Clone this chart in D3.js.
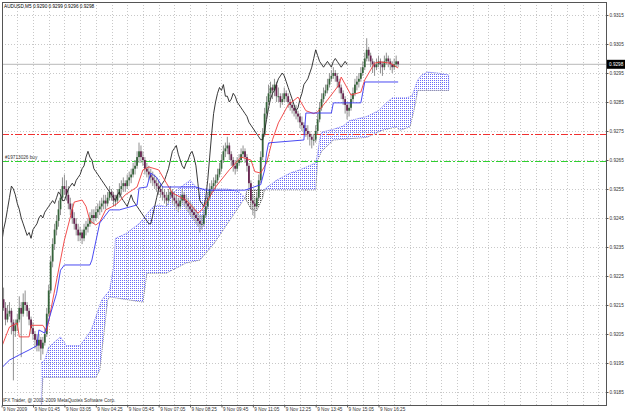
<!DOCTYPE html>
<html><head><meta charset="utf-8">
<script src="https://cdn.jsdelivr.net/npm/d3@7"></script>
<style>html,body{margin:0;padding:0;background:#fff;overflow:hidden}svg{display:block}text{font-family:"Liberation Sans",Arial,sans-serif}</style>
</head><body><svg id="c" width="625" height="414"></svg>
<script>
const titleText = "AUDUSD,M5  0.9290 0.9299 0.9296 0.9298";
const copyrightText = "IFX Trader, @ 2001-2009 MetaQuotes Software Corp.";
const priceTicks = [0.9315,0.9305,0.9295,0.9285,0.9275,0.9265,0.9255,0.9245,0.9235,0.9225,0.9215,0.9205,0.9195,0.9185];
const timeLabels = ["9 Nov 2009","9 Nov 01:45","9 Nov 03:05","9 Nov 04:25","9 Nov 05:45","9 Nov 07:05","9 Nov 08:25","9 Nov 09:45","9 Nov 11:05","9 Nov 12:25","9 Nov 13:45","9 Nov 15:05","9 Nov 16:25"];
const timeLabelBars = [0,16,32,48,64,80,96,112,128,144,160,176,192];
const bidPrice = 0.9298;
const sellLevel = 0.92738;
const buyLevel = 0.92648;
const buyLabel = "#19713026 buy";
const chikouShift = 26;

const opens = [0.9219,0.9217,0.9214,0.9210,0.9212,0.9213,0.9209,0.9206,0.9208,0.9210,
0.9214,0.9212,0.9216,0.9215,0.9213,0.9210,0.9207,0.9205,0.9203,0.9201,
0.9203,0.9200,0.9202,0.9205,0.9212,0.9220,0.9230,0.9236,0.9241,0.9244,
0.9248,0.9252,0.9256,0.9255,0.9253,0.9250,0.9248,0.9245,0.9243,0.9241,
0.9239,0.9240,0.9238,0.9241,0.9242,0.9243,0.9245,0.9246,0.9245,0.9247,
0.9248,0.9249,0.9250,0.9251,0.9250,0.9252,0.9254,0.9253,0.9251,0.9251,
0.9253,0.9255,0.9256,0.9257,0.9256,0.9258,0.9259,0.9260,0.9262,0.9263,
0.9266,0.9268,0.9266,0.9265,0.9262,0.9261,0.9260,0.9259,0.9258,0.9257,
0.9256,0.9255,0.9254,0.9253,0.9252,0.9251,0.9253,0.9254,0.9252,0.9251,
0.9250,0.9249,0.9251,0.9253,0.9251,0.9250,0.9249,0.9248,0.9247,0.9246,
0.9245,0.9244,0.9243,0.9243,0.9246,0.9249,0.9252,0.9255,0.9256,0.9257,
0.9258,0.9260,0.9262,0.9265,0.9268,0.9269,0.9270,0.9267,0.9265,0.9263,
0.9262,0.9264,0.9265,0.9267,0.9268,0.9266,0.9263,0.9257,0.9251,0.9250,
0.9249,0.9252,0.9258,0.9266,0.9274,0.9281,0.9285,0.9288,0.9290,0.9289,
0.9291,0.9287,0.9287,0.9285,0.9286,0.9288,0.9287,0.9285,0.9284,0.9283,
0.9282,0.9281,0.9280,0.9278,0.9277,0.9276,0.9275,0.9274,0.9273,0.9272,
0.9272,0.9275,0.9279,0.9283,0.9286,0.9288,0.9289,0.9291,0.9293,0.9294,
0.9295,0.9294,0.9292,0.9290,0.9288,0.9286,0.9284,0.9282,0.9283,0.9286,
0.9288,0.9291,0.9292,0.9293,0.9295,0.9297,0.9300,0.9303,0.9301,0.9299,
0.9298,0.9297,0.9298,0.9299,0.9298,0.9297,0.9299,0.9300,0.9299,0.9298,
0.9297,0.9298,0.9299];
const highs = [0.9222,0.9221,0.9216,0.9215,0.9216,0.9214,0.9210,0.9210,0.9212,0.9218,
0.9216,0.9219,0.9220,0.9216,0.9214,0.9211,0.9209,0.9206,0.9205,0.9205,
0.9204,0.9204,0.9207,0.9214,0.9222,0.9232,0.9238,0.9243,0.9246,0.9251,
0.9255,0.9259,0.9260,0.9258,0.9256,0.9252,0.9250,0.9247,0.9245,0.9243,
0.9242,0.9241,0.9243,0.9244,0.9245,0.9247,0.9248,0.9248,0.9249,0.9250,
0.9251,0.9252,0.9253,0.9253,0.9254,0.9256,0.9255,0.9254,0.9253,0.9255,
0.9257,0.9258,0.9259,0.9258,0.9260,0.9261,0.9262,0.9264,0.9265,0.9268,
0.9271,0.9270,0.9268,0.9266,0.9264,0.9263,0.9262,0.9261,0.9260,0.9259,
0.9258,0.9257,0.9256,0.9255,0.9254,0.9255,0.9256,0.9255,0.9254,0.9253,
0.9252,0.9253,0.9255,0.9254,0.9253,0.9252,0.9251,0.9250,0.9249,0.9248,
0.9247,0.9246,0.9246,0.9248,0.9251,0.9254,0.9257,0.9258,0.9259,0.9260,
0.9262,0.9264,0.9267,0.9270,0.9271,0.9273,0.9271,0.9268,0.9266,0.9265,
0.9266,0.9267,0.9269,0.9270,0.9269,0.9267,0.9264,0.9258,0.9253,0.9252,
0.9254,0.9260,0.9268,0.9276,0.9283,0.9287,0.9291,0.9292,0.9291,0.9293,
0.9292,0.9290,0.9288,0.9288,0.9290,0.9289,0.9288,0.9286,0.9285,0.9284,
0.9284,0.9282,0.9281,0.9280,0.9278,0.9277,0.9277,0.9275,0.9274,0.9274,
0.9277,0.9281,0.9285,0.9288,0.9290,0.9291,0.9293,0.9295,0.9296,0.9297,
0.9296,0.9295,0.9293,0.9291,0.9289,0.9287,0.9285,0.9285,0.9288,0.9290,
0.9293,0.9294,0.9295,0.9297,0.9299,0.9302,0.9307,0.9304,0.9302,0.9300,
0.9299,0.9300,0.9301,0.9300,0.9299,0.9301,0.9302,0.9301,0.9300,0.9299,
0.9300,0.9301,0.9299];
const lows = [0.9215,0.9213,0.9208,0.9209,0.9211,0.9205,0.9189,0.9204,0.9206,0.9209,
0.9197,0.9211,0.9213,0.9211,0.9208,0.9205,0.9203,0.9200,0.9199,0.9199,
0.9196,0.9198,0.9201,0.9204,0.9211,0.9219,0.9228,0.9234,0.9239,0.9242,
0.9246,0.9251,0.9253,0.9251,0.9248,0.9246,0.9243,0.9241,0.9239,0.9237,
0.9237,0.9236,0.9237,0.9239,0.9240,0.9242,0.9243,0.9243,0.9244,0.9245,
0.9246,0.9247,0.9248,0.9248,0.9249,0.9251,0.9251,0.9249,0.9249,0.9250,
0.9252,0.9253,0.9254,0.9254,0.9255,0.9256,0.9257,0.9259,0.9260,0.9262,
0.9264,0.9264,0.9263,0.9260,0.9259,0.9258,0.9257,0.9256,0.9255,0.9254,
0.9253,0.9252,0.9251,0.9250,0.9249,0.9250,0.9252,0.9250,0.9249,0.9248,
0.9247,0.9248,0.9250,0.9249,0.9248,0.9247,0.9246,0.9245,0.9244,0.9243,
0.9242,0.9240,0.9241,0.9242,0.9245,0.9248,0.9251,0.9253,0.9254,0.9255,
0.9257,0.9259,0.9261,0.9264,0.9266,0.9267,0.9265,0.9263,0.9261,0.9260,
0.9261,0.9263,0.9264,0.9266,0.9264,0.9261,0.9255,0.9248,0.9246,0.9245,
0.9248,0.9251,0.9257,0.9265,0.9273,0.9279,0.9284,0.9286,0.9286,0.9287,
0.9285,0.9285,0.9283,0.9284,0.9285,0.9285,0.9283,0.9282,0.9281,0.9280,
0.9279,0.9278,0.9276,0.9275,0.9274,0.9273,0.9272,0.9270,0.9269,0.9270,
0.9271,0.9274,0.9278,0.9282,0.9285,0.9287,0.9288,0.9290,0.9292,0.9293,
0.9292,0.9290,0.9288,0.9286,0.9284,0.9281,0.9279,0.9280,0.9282,0.9285,
0.9287,0.9289,0.9290,0.9292,0.9294,0.9296,0.9299,0.9299,0.9297,0.9295,
0.9294,0.9296,0.9297,0.9295,0.9294,0.9296,0.9298,0.9297,0.9296,0.9295,
0.9296,0.9297,0.9297];
const closes = [0.9217,0.9214,0.9210,0.9212,0.9213,0.9209,0.9206,0.9208,0.9210,0.9214,
0.9212,0.9216,0.9215,0.9213,0.9210,0.9207,0.9205,0.9203,0.9201,0.9203,
0.9200,0.9202,0.9205,0.9212,0.9220,0.9230,0.9236,0.9241,0.9244,0.9248,
0.9252,0.9256,0.9255,0.9253,0.9250,0.9248,0.9245,0.9243,0.9241,0.9239,
0.9240,0.9238,0.9241,0.9242,0.9243,0.9245,0.9246,0.9245,0.9247,0.9248,
0.9249,0.9250,0.9251,0.9250,0.9252,0.9254,0.9253,0.9251,0.9251,0.9253,
0.9255,0.9256,0.9257,0.9256,0.9258,0.9259,0.9260,0.9262,0.9263,0.9266,
0.9268,0.9266,0.9265,0.9262,0.9261,0.9260,0.9259,0.9258,0.9257,0.9256,
0.9255,0.9254,0.9253,0.9252,0.9251,0.9253,0.9254,0.9252,0.9251,0.9250,
0.9249,0.9251,0.9253,0.9251,0.9250,0.9249,0.9248,0.9247,0.9246,0.9245,
0.9244,0.9243,0.9243,0.9246,0.9249,0.9252,0.9255,0.9256,0.9257,0.9258,
0.9260,0.9262,0.9265,0.9268,0.9269,0.9270,0.9267,0.9265,0.9263,0.9262,
0.9264,0.9265,0.9267,0.9268,0.9266,0.9263,0.9257,0.9251,0.9250,0.9249,
0.9252,0.9258,0.9266,0.9274,0.9281,0.9285,0.9288,0.9290,0.9289,0.9291,
0.9287,0.9287,0.9285,0.9286,0.9288,0.9287,0.9285,0.9284,0.9283,0.9282,
0.9281,0.9280,0.9278,0.9277,0.9276,0.9275,0.9274,0.9273,0.9272,0.9272,
0.9275,0.9279,0.9283,0.9286,0.9288,0.9289,0.9291,0.9293,0.9294,0.9295,
0.9294,0.9292,0.9290,0.9288,0.9286,0.9284,0.9282,0.9283,0.9286,0.9288,
0.9291,0.9292,0.9293,0.9295,0.9297,0.9300,0.9303,0.9301,0.9299,0.9298,
0.9297,0.9298,0.9299,0.9298,0.9297,0.9299,0.9300,0.9299,0.9298,0.9297,
0.9298,0.9299,0.9298];

// Tenkan-sen (red) vertices [bar, price]
const tenkan = [[0,0.92005],[4,0.92074],[8,0.92088],[9,0.9204],[14,0.9204],[15,0.9208],[21,0.9208],[23,0.9206],
[30,0.92305],[32,0.92374],[37,0.92505],[41,0.92512],[43,0.9249],[45,0.9244],[48,0.92426],[50,0.92436],
[53,0.92478],[56,0.92488],[59,0.925],[63,0.9253],[69,0.92557],[72,0.92616],[75,0.92626],[80,0.92616],
[84,0.9257],[87,0.92536],[94,0.92512],[100,0.92467],[102,0.92478],[109,0.92557],[116,0.92616],[122,0.9266],
[127,0.9265],[129,0.9261],[132,0.92605],[135,0.9264],[138,0.9272],[141,0.92778],[146,0.9284],[151,0.92867],
[155,0.9282],[159,0.9281],[161,0.92816],[166,0.92857],[172,0.9291],[173,0.92936],[178,0.92874],[183,0.92884],
[185,0.92926],[190,0.92984],[193,0.92988],[198,0.92984],[202,0.92967]];
// Kijun-sen (blue) vertices
const kijun = [[0,0.91933],[4,0.9196],[9,0.91978],[14,0.91995],[18,0.9201],[19,0.92064],[22,0.92053],[24,0.92098],
[28,0.9219],[30,0.9227],[32,0.92288],[45,0.92288],[46,0.92305],[50,0.92433],[55,0.92478],[60,0.92478],
[69,0.92495],[70,0.92553],[74,0.92557],[76,0.92605],[79,0.9259],[82,0.92557],[99,0.92557],[104,0.92546],
[124,0.92546],[132,0.92565],[134,0.92616],[135,0.92674],[136,0.92709],[154,0.92719],[155,0.92812],[168,0.92812],
[169,0.92847],[183,0.92847],[185,0.92919],[202,0.92919]];
// Senkou span A / B vertices (already shifted forward)
const spanA = [[20,0.9195],[22,0.9196],[24,0.92005],[30,0.9204],[33,0.9201],[40,0.9201],[45,0.92057],[46,0.9207],
[51,0.92167],[55,0.922],[57,0.9228],[58,0.9238],[63,0.92395],[70,0.9243],[77,0.92488],[80,0.92495],
[84,0.92488],[87,0.92536],[94,0.9257],[96,0.9258],[100,0.9255],[107,0.9255],[115,0.9255],[121,0.9254],
[124,0.9252],[127,0.9248],[130,0.92475],[133,0.9252],[134,0.9255],[140,0.9258],[147,0.92605],[152,0.92616],
[160,0.9264],[161,0.9267],[162,0.9272],[163,0.92746],[169,0.92756],[174,0.92767],[177,0.92785],[186,0.928],
[192,0.9282],[196,0.92847],[199,0.92864],[206,0.92864],[209,0.9287],[212,0.92926],[214,0.92943],[217,0.92953],
[222,0.9295],[228,0.92943]];
const spanB = [[20,0.9175],[21,0.919],[48,0.919],[50,0.91926],[54,0.92167],[55,0.92178],[72,0.9216],[74,0.9226],
[84,0.9226],[94,0.92295],[101,0.92305],[108,0.9236],[114,0.9242],[120,0.9248],[124,0.9252],[125,0.92547],
[133,0.92547],[160,0.92547],[161,0.9265],[163,0.9268],[169,0.92719],[186,0.92728],[194,0.92753],[201,0.92764],
[203,0.92753],[208,0.92764],[210,0.9282],[212,0.9289],[228,0.9289]];

const svg = d3.select("#c");
const W = 625, H = 414;
const L = 2, R = 606, T = 2, B = 405;
const step = 1.963, x0 = 1.6;
const FS = 4.7;
const x = d3.scaleLinear().domain([0, 300]).range([x0, x0 + 300 * step]);
const y = d3.scaleLinear().domain([0.9185, 0.9315]).range([392, 15]);

svg.append("rect").attr("width", W).attr("height", H).attr("fill", "#fff");
const defs = svg.append("defs");
defs.append("clipPath").attr("id", "plot").append("rect").attr("x", L).attr("y", T).attr("width", R - L).attr("height", B - T);
const pb = defs.append("pattern").attr("id", "pBlue").attr("patternUnits", "userSpaceOnUse").attr("width", 2).attr("height", 2);
pb.append("rect").attr("width", 1).attr("height", 1).attr("fill", "#6a6af8");
const pk = defs.append("pattern").attr("id", "pBlack").attr("patternUnits", "userSpaceOnUse").attr("width", 2).attr("height", 2);
pk.append("rect").attr("width", 1).attr("height", 1).attr("fill", "#555");

const plot = svg.append("g").attr("clip-path", "url(#plot)");

// grid
const maxBar = Math.floor(x.invert(R));
const gridBars = d3.range(8, maxBar + 1, 8);
plot.append("g").selectAll("line").data(gridBars).join("line")
  .attr("x1", d => Math.round(x(d)) + 0.5).attr("x2", d => Math.round(x(d)) + 0.5)
  .attr("y1", T).attr("y2", B).attr("stroke", "#c8c8c8").attr("stroke-dasharray", "1,2");
plot.append("g").selectAll("line").data(priceTicks).join("line")
  .attr("x1", L).attr("x2", R).attr("y1", d => Math.round(y(d)) + 0.5).attr("y2", d => Math.round(y(d)) + 0.5)
  .attr("stroke", "#c8c8c8").attr("stroke-dasharray", "1,2");

// cloud
const px = d => x(d[0]), py = d => y(d[1]);
const band = "M" + spanA.map(d => px(d) + "," + py(d)).join("L") + "L" + spanB.slice().reverse().map(d => px(d) + "," + py(d)).join("L") + "Z";
const first = spanB[0], last = spanB[spanB.length - 1];
const aboveB = "M" + spanB.map(d => px(d) + "," + py(d)).join("L") + `L${px(last)},0L${px(first)},0Z`;
const belowB = "M" + spanB.map(d => px(d) + "," + py(d)).join("L") + `L${px(last)},${H}L${px(first)},${H}Z`;
defs.append("clipPath").attr("id", "cAbove").append("path").attr("d", aboveB);
defs.append("clipPath").attr("id", "cBelow").append("path").attr("d", belowB);
plot.append("g").attr("clip-path", "url(#cAbove)").append("path").attr("d", band).attr("fill", "url(#pBlue)").attr("stroke", "#5555f0").attr("stroke-width", 0.8).attr("stroke-dasharray", "1,1");
plot.append("g").attr("clip-path", "url(#cBelow)").append("path").attr("d", band).attr("fill", "url(#pBlack)").attr("stroke", "#444").attr("stroke-width", 0.8).attr("stroke-dasharray", "1,1");

// level lines
plot.append("line").attr("x1", L).attr("x2", R).attr("y1", y(bidPrice)).attr("y2", y(bidPrice)).attr("stroke", "#b8b8b8");
plot.append("line").attr("x1", L).attr("x2", R).attr("y1", Math.round(y(sellLevel)) + 0.5).attr("y2", Math.round(y(sellLevel)) + 0.5).attr("stroke", "#f03030").attr("stroke-dasharray", "7,2,2,2");
plot.append("line").attr("x1", L).attr("x2", R).attr("y1", Math.round(y(buyLevel)) + 0.5).attr("y2", Math.round(y(buyLevel)) + 0.5).attr("stroke", "#30d030").attr("stroke-dasharray", "7,2,2,2");
plot.append("text").attr("x", 5).attr("y", y(buyLevel) - 2).attr("font-size", FS).attr("fill", "#333").text(buyLabel);

// candles
const bars = d3.range(closes.length).map(i => ({i, o: opens[i], h: highs[i], l: lows[i], c: closes[i]}));
const cg = plot.append("g");
cg.selectAll("line.w").data(bars).join("line").attr("class", "w")
  .attr("x1", d => x(d.i)).attr("x2", d => x(d.i)).attr("y1", d => y(d.h)).attr("y2", d => y(d.l))
  .attr("stroke", "#909090").attr("stroke-width", 1);
cg.selectAll("rect").data(bars).join("rect")
  .attr("x", d => x(d.i) - 0.9).attr("width", 1.8)
  .attr("y", d => y(Math.max(d.o, d.c)))
  .attr("height", d => Math.max(1, Math.abs(y(d.o) - y(d.c))))
  .attr("fill", d => d.c >= d.o ? "#35633a" : "#66244f");

// lines
const line = d3.line().x(d => x(d[0])).y(d => y(d[1]));
const chikou = closes.map((c, i) => [i - chikouShift, c]).filter(d => d[0] >= 0);
plot.append("path").attr("d", line(chikou)).attr("fill", "none").attr("stroke", "#222").attr("stroke-width", 0.9);
plot.append("path").attr("d", line(tenkan)).attr("fill", "none").attr("stroke", "#f03a3a").attr("stroke-width", 0.9);
plot.append("path").attr("d", line(kijun)).attr("fill", "none").attr("stroke", "#3535f0").attr("stroke-width", 0.9);

// frame
svg.append("rect").attr("x", L + 0.5).attr("y", T + 0.5).attr("width", R - L).attr("height", B - T).attr("fill", "none").attr("stroke", "#555");

// axes
const ya = d3.axisRight(y).tickValues(priceTicks).tickSize(2).tickFormat(d3.format(".4f"));
const yg = svg.append("g").attr("transform", `translate(${R + 0.5},0)`).call(ya);
yg.select(".domain").remove();
yg.selectAll("text").attr("font-size", FS).attr("fill", "#333").attr("x", 3);
yg.selectAll("line").attr("stroke", "#555");
const xa = d3.axisBottom(x).tickValues(timeLabelBars).tickSize(2).tickFormat((d, i) => timeLabels[i]);
const xg = svg.append("g").attr("transform", `translate(0,${B + 0.5})`).call(xa);
xg.select(".domain").remove();
xg.selectAll("text").attr("font-size", FS).attr("fill", "#333").attr("text-anchor", "start").attr("dx", 1).attr("y", 2).attr("dy", "0.75em");
xg.selectAll("line").attr("stroke", "#555");

// bid box
svg.append("rect").attr("x", R + 1).attr("y", y(bidPrice) - 4.5).attr("width", 18).attr("height", 9).attr("fill", "#000");
svg.append("text").attr("x", R + 3).attr("y", y(bidPrice) + 1.7).attr("font-size", FS).attr("fill", "#fff").text(d3.format(".4f")(bidPrice));

// texts
svg.append("text").attr("x", 4).attr("y", 8).attr("font-size", FS).attr("fill", "#000").text(titleText);
svg.append("text").attr("x", 3).attr("y", 402).attr("font-size", FS).attr("fill", "#333").text(copyrightText);
</script></body></html>
